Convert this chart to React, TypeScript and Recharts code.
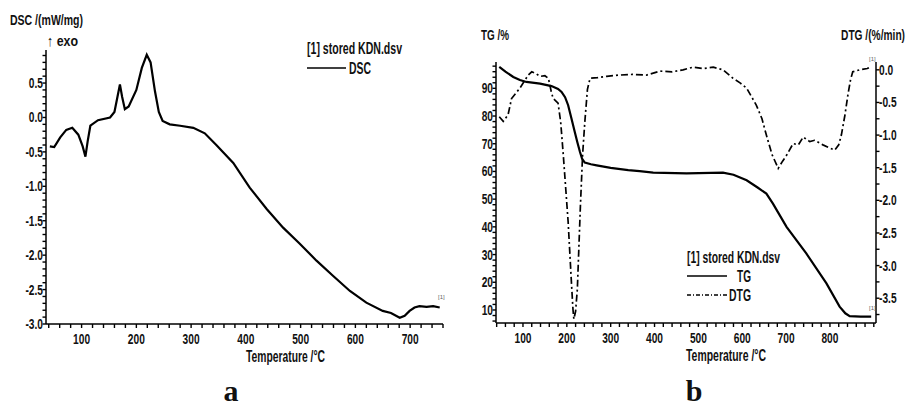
import React from "react";
import { LineChart, Line, XAxis, YAxis } from "recharts";

// DSC curve (panel a)
const dscTemp = [42, 50, 61, 72, 83, 94, 102, 107, 111, 116, 130, 152, 160, 165, 170, 174, 179, 186, 200, 210, 219, 226, 234, 241, 248, 261, 280, 304, 325, 346, 377, 407, 438, 468, 498, 529, 559, 590, 620, 650, 665, 681, 690, 699, 708, 717, 730, 742, 754];
const dscValue = [-0.42, -0.43, -0.29, -0.18, -0.15, -0.25, -0.42, -0.57, -0.35, -0.12, -0.04, 0.0, 0.08, 0.28, 0.48, 0.3, 0.12, 0.16, 0.4, 0.72, 0.91, 0.8, 0.38, 0.08, -0.05, -0.1, -0.12, -0.15, -0.23, -0.4, -0.66, -1.02, -1.33, -1.6, -1.83, -2.08, -2.3, -2.52, -2.69, -2.81, -2.84, -2.91, -2.88, -2.81, -2.76, -2.74, -2.75, -2.74, -2.76];

// TG curve (panel b)
const tgTemp = [46, 60, 78, 93, 108, 139, 165, 180, 188, 196, 203, 210, 218, 224, 230, 235, 241, 255, 268, 300, 340, 366, 397, 473, 556, 580, 610, 635, 655, 670, 701, 746, 792, 822, 835, 845, 870, 894];
const tgValue = [97.7, 96.0, 94.1, 93.0, 92.3, 91.7, 90.8, 89.8, 88.7, 86.8, 83.9, 79.5, 74.3, 70.5, 67.0, 64.5, 63.2, 62.6, 62.2, 61.3, 60.5, 60.1, 59.6, 59.3, 59.6, 58.8, 56.8, 54.2, 52.0, 48.4, 40.0, 30.4, 19.6, 11.2, 8.8, 7.8, 7.6, 7.6];

// DTG curve (panel b)
const dtgTemp = [46, 55, 66, 74, 93, 112, 120, 130, 139, 150, 158, 165, 169, 180, 186, 192, 203, 210, 214, 216, 220, 224, 231, 236, 241, 247, 253, 270, 291, 320, 350, 382, 412, 440, 465, 488, 510, 534, 556, 579, 595, 610, 632, 645, 655, 668, 682, 692, 701, 716, 728, 739, 754, 765, 784, 800, 811, 820, 826, 834, 841, 847, 852, 868, 885, 894];
const dtgValue = [-0.72, -0.79, -0.69, -0.44, -0.28, -0.08, -0.03, -0.06, -0.1, -0.09, -0.13, -0.35, -0.44, -0.51, -0.8, -1.31, -2.33, -3.2, -3.67, -3.82, -3.7, -3.36, -2.08, -1.3, -0.8, -0.3, -0.13, -0.12, -0.1, -0.08, -0.07, -0.08, -0.02, -0.03, 0.0, 0.04, 0.02, 0.04, 0.0, -0.13, -0.2, -0.28, -0.54, -0.75, -1.0, -1.3, -1.51, -1.4, -1.31, -1.13, -1.15, -1.03, -1.1, -1.08, -1.15, -1.2, -1.23, -1.15, -1.0, -0.7, -0.38, -0.15, -0.03, 0.0, 0.02, 0.05];

// tick labels
const dscTicks = [-3.0, -2.5, -2.0, -1.5, -1.0, -0.5, 0.0, 0.5];
const tgTicks = [10, 20, 30, 40, 50, 60, 70, 80, 90];
const dtgTicks = [-3.5, -3.0, -2.5, -2.0, -1.5, -1.0, -0.5, 0.0];
const tempTicksA = [100, 200, 300, 400, 500, 600, 700];
const tempTicksB = [100, 200, 300, 400, 500, 600, 700, 800];

const FONT = "'Liberation Sans', Arial, sans-serif";
const SQUEEZE = 0.68; // the original uses a narrow bold face

const dscData = dscTemp.map((t, i) => ({ t, v: dscValue[i] }));
const tgData = tgTemp.map((t, i) => ({ t, v: tgValue[i] }));
const dtgData = dtgTemp.map((t, i) => ({ t, v: dtgValue[i] }));

// minor ticks between the labelled ones
const withMinor = (from: number, to: number, step: number) => {
  const out: number[] = [];
  for (let k = Math.ceil(from / step - 1e-9); k * step <= to + 1e-9; k++) out.push(Math.round(k * step * 1000) / 1000);
  return out;
};
const isIn = (list: number[], v: number) => list.some((m) => Math.abs(m - v) < 1e-6);

const Narrow = ({ x, y, anchor, size, children }: any) => (
  <text
    transform={`translate(${x},${y}) scale(${SQUEEZE},1)`}
    textAnchor={anchor}
    fontFamily={FONT}
    fontWeight="bold"
    fontSize={size}
    fill="#111"
  >
    {children}
  </text>
);

const makeXTick = (major: number[]) => (p: any) => {
  const { x, y, payload } = p;
  const big = isIn(major, payload.value);
  return (
    <g>
      <line x1={x} x2={x} y1={y} y2={y + 4} stroke="#000" strokeWidth={1.4} />
      {big && (
        <Narrow x={x} y={y + 20} anchor="middle" size={15}>
          {payload.value}
        </Narrow>
      )}
    </g>
  );
};

const makeLeftTick = (major: number[], fmt: (v: number) => string) => (p: any) => {
  const { x, y, payload } = p;
  const big = isIn(major, payload.value);
  return (
    <g>
      <line x1={x - 3.5} x2={x} y1={y} y2={y} stroke="#000" strokeWidth={1.4} />
      {big && (
        <Narrow x={x - 3} y={y + 5} anchor="end" size={15}>
          {fmt(payload.value)}
        </Narrow>
      )}
    </g>
  );
};

const makeRightTick = (major: number[], fmt: (v: number) => string) => (p: any) => {
  const { x, y, payload } = p;
  const big = isIn(major, payload.value);
  return (
    <g>
      <line x1={x} x2={x + 3.5} y1={y} y2={y} stroke="#000" strokeWidth={1.4} />
      {big && (
        <Narrow x={x + 3} y={y + 5} anchor="start" size={15}>
          {fmt(payload.value)}
        </Narrow>
      )}
    </g>
  );
};

const fmt1 = (v: number) => v.toFixed(1);
const fmt0 = (v: number) => String(v);

const Title = ({ x, y, w, size, anchor, children }: any) => (
  <text
    x={x}
    y={y}
    textLength={w}
    lengthAdjust="spacingAndGlyphs"
    textAnchor={anchor || "start"}
    fontFamily={FONT}
    fontWeight="bold"
    fontSize={size}
    fill="#111"
  >
    {children}
  </text>
);

const App: React.FC = () => {
  return (
    <div style={{ position: "absolute", left: 0, top: 0, width: 908, height: 410, background: "#fff" }}>
      <div style={{ position: "absolute", left: 0, top: 0 }}>
        <LineChart width={454} height={370} data={dscData} margin={{ top: 50, right: 11, left: 0, bottom: 16 }}>
          <XAxis
            dataKey="t"
            type="number"
            domain={[35, 760]}
            ticks={withMinor(40, 760, 20)}
            interval={0}
            tickSize={0}
            tickMargin={0}
            tickLine={false}
            tick={makeXTick(tempTicksA)}
            height={30}
            axisLine={{ stroke: "#000", strokeWidth: 1.5 }}
            allowDataOverflow
          />
          <YAxis
            type="number"
            domain={[-3.0, 0.98]}
            ticks={withMinor(-3.0, 0.9, 0.1)}
            interval={0}
            tickSize={0}
            tickMargin={0}
            tickLine={false}
            tick={makeLeftTick(dscTicks, fmt1)}
            width={46}
            axisLine={{ stroke: "#000", strokeWidth: 1.5 }}
            allowDataOverflow
          />
          <Line dataKey="v" stroke="#000" strokeWidth={2.2} dot={false} isAnimationActive={false} />
        </LineChart>
      </div>
      <div style={{ position: "absolute", left: 454, top: 0 }}>
        <LineChart width={454} height={370} margin={{ top: 62, right: 0, left: 0, bottom: 17 }}>
          <XAxis
            dataKey="t"
            type="number"
            domain={[38.5, 905]}
            ticks={withMinor(40, 900, 20)}
            interval={0}
            tickSize={0}
            tickMargin={0}
            tickLine={false}
            tick={makeXTick(tempTicksB)}
            height={30}
            axisLine={{ stroke: "#000", strokeWidth: 1.5 }}
            allowDataOverflow
          />
          <YAxis
            yAxisId="tg"
            type="number"
            domain={[5.3, 99.5]}
            ticks={withMinor(6, 98, 2)}
            interval={0}
            tickSize={0}
            tickMargin={0}
            tickLine={false}
            tick={makeLeftTick(tgTicks, fmt0)}
            width={42}
            axisLine={{ stroke: "#000", strokeWidth: 1.5 }}
            allowDataOverflow
          />
          <YAxis
            yAxisId="dtg"
            orientation="right"
            type="number"
            domain={[-3.88, 0.12]}
            ticks={withMinor(-3.75, 0.0, 0.25)}
            interval={0}
            tickSize={0}
            tickMargin={0}
            tickLine={false}
            tick={makeRightTick(dtgTicks, fmt1)}
            width={32}
            axisLine={{ stroke: "#000", strokeWidth: 1.5 }}
            allowDataOverflow
          />
          <Line yAxisId="tg" data={tgData} dataKey="v" stroke="#000" strokeWidth={2.2} dot={false} isAnimationActive={false} />
          <Line
            yAxisId="dtg"
            data={dtgData}
            dataKey="v"
            stroke="#000"
            strokeWidth={1.7}
            strokeDasharray="7 3 2 3"
            dot={false}
            isAnimationActive={false}
          />
        </LineChart>
      </div>
      <svg width={908} height={410} style={{ position: "absolute", left: 0, top: 0, pointerEvents: "none" }}>
        {/* panel a texts */}
        <Title x={10} y={25} w={73} size={15}>DSC /(mW/mg)</Title>
        <Title x={47} y={46} w={31} size={15}>↑ exo</Title>
        <Title x={307} y={54} w={95} size={16}>[1] stored KDN.dsv</Title>
        <line x1={307} x2={346} y1={68} y2={68} stroke="#000" strokeWidth={1.5} />
        <Title x={349} y={74} w={22} size={16}>DSC</Title>
        <Title x={246} y={362} w={79} size={16}>Temperature /°C</Title>
        <text x={438} y={299} fontSize={6} fill="#666" fontFamily={FONT}>[1]</text>
        <text x={231} y={401} fontSize={30} textAnchor="middle" fontFamily="'Liberation Serif', 'DejaVu Serif', serif" fontWeight="bold" fill="#111">a</text>
        {/* panel b texts */}
        <Title x={481} y={40} w={28} size={15}>TG /%</Title>
        <Narrow x={905} y={40} anchor="end" size={15}>DTG /(%/min)</Narrow>
        <Title x={687} y={263} w={93} size={16}>[1] stored KDN.dsv</Title>
        <line x1={687} x2={727} y1={276} y2={276} stroke="#000" strokeWidth={1.3} />
        <Title x={737} y={282} w={14} size={16}>TG</Title>
        <line x1={687} x2={727} y1={295} y2={295} stroke="#000" strokeWidth={1.3} strokeDasharray="4 2 1 2" />
        <Title x={729} y={301} w={22} size={16}>DTG</Title>
        <Title x={686} y={361} w={80} size={16}>Temperature /°C</Title>
        <text x={869} y={61} fontSize={6} fill="#666" fontFamily={FONT}>[1]</text>
        <text x={869} y={310} fontSize={6} fill="#666" fontFamily={FONT}>[1]</text>
        <text x={694} y={401} fontSize={30} textAnchor="middle" fontFamily="'Liberation Serif', 'DejaVu Serif', serif" fontWeight="bold" fill="#111">b</text>
      </svg>
    </div>
  );
};

export default App;
